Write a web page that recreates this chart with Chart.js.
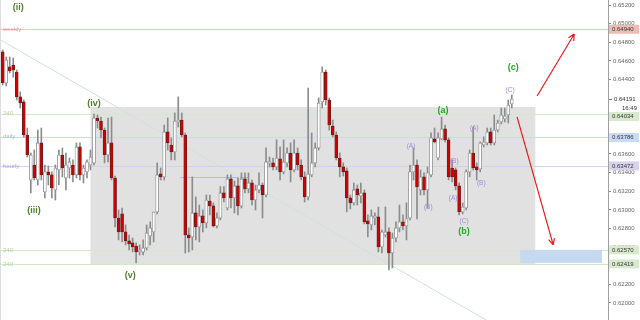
<!DOCTYPE html>
<html>
<head>
<meta charset="utf-8">
<script src="https://cdn.jsdelivr.net/npm/chart.js@4.4.1/dist/chart.umd.min.js"></script>
<style>
  html, body { margin: 0; padding: 0; background: #fff; overflow: hidden; }
</style>
</head>
<body>
<canvas id="chart" width="640" height="320"></canvas>
<script>
// candles (price)
const opens = [
  0.64696,0.64363,0.64535,0.64556,0.64481,0.64213,0.64159,0.63804,0.63321,0.63482,
  0.63321,0.63719,0.63193,0.63408,0.63375,0.63214,0.63429,0.63589,0.63342,0.63450,
  0.63482,0.63375,0.63676,0.63375,0.63408,0.63482,0.63504,0.63987,0.63954,0.63858,
  0.63589,0.63719,0.63342,0.62913,0.62956,0.62763,0.62666,0.62645,0.62612,0.62548,
  0.62548,0.62591,0.62720,0.62763,0.62978,0.63386,0.63354,0.63837,0.63697,0.63622,
  0.63944,0.63965,0.63804,0.62731,0.62709,0.62967,0.62816,0.62935,0.62859,0.63095,
  0.63042,0.62827,0.62913,0.63182,0.63020,0.63332,0.63128,0.63257,0.63042,0.63332,
  0.63225,0.63289,0.63106,0.63214,0.63267,0.63160,0.63504,0.63504,0.63461,0.63547,
  0.63408,0.63504,0.63611,0.63429,0.63611,0.63482,0.63354,0.63139,0.63375,0.63504,
  0.63665,0.64159,0.64481,0.64180,0.63901,0.63804,0.63557,0.63461,0.63418,0.63128,
  0.63074,0.63225,0.63150,0.63182,0.62881,0.62838,0.62913,0.62924,0.62602,0.62731,
  0.62763,0.62537,0.62698,0.62806,0.62871,0.62827,0.62913,0.63408,0.63482,0.63214,
  0.63354,0.63214,0.63375,0.63762,0.63557,0.63762,0.63869,0.63751,0.63450,0.63429,
  0.63257,0.62978,0.63020,0.63408,0.63611,0.63461,0.63440,0.63697,0.63719,0.63837,
  0.63719,0.63858,0.63944,0.63976,0.64019,0.64137
];
const highs = [
  0.64717,0.64642,0.64642,0.64631,0.64502,0.64267,0.64180,0.63879,0.63611,0.63643,
  0.63858,0.63879,0.63482,0.63472,0.63408,0.63482,0.63643,0.63665,0.63611,0.63557,
  0.63536,0.63719,0.63719,0.63482,0.63536,0.63643,0.64030,0.64019,0.63997,0.63879,
  0.63987,0.63997,0.63364,0.62999,0.63020,0.62838,0.62730,0.62698,0.62645,0.62623,
  0.62677,0.62838,0.62871,0.62924,0.63504,0.63450,0.63911,0.63987,0.63773,0.64041,
  0.64213,0.64041,0.63826,0.62806,0.63354,0.63139,0.63052,0.62999,0.63160,0.63160,
  0.63074,0.62967,0.63250,0.63250,0.63375,0.63375,0.63310,0.63342,0.63397,0.63397,
  0.63397,0.63321,0.63267,0.63397,0.63289,0.63665,0.63568,0.63557,0.63751,0.63676,
  0.63751,0.63665,0.63719,0.63751,0.63665,0.63536,0.63408,0.64309,0.63826,0.63719,
  0.64202,0.64535,0.64502,0.64202,0.63965,0.63837,0.63611,0.63504,0.63450,0.63160,
  0.63289,0.63267,0.63289,0.63214,0.62946,0.62999,0.62967,0.63031,0.62784,0.63031,
  0.62806,0.62752,0.62871,0.63052,0.62946,0.63074,0.63482,0.63665,0.63536,0.63429,
  0.63397,0.63461,0.63826,0.63879,0.63826,0.63997,0.63911,0.63773,0.63536,0.63450,
  0.63289,0.63074,0.63429,0.63643,0.63890,0.63504,0.63729,0.63783,0.63879,0.63879,
  0.64019,0.63965,0.64094,0.64094,0.64180,0.64234
];
const lows = [
  0.64341,0.64331,0.64470,0.64427,0.64180,0.64094,0.63783,0.63568,0.63182,0.63321,
  0.63267,0.63321,0.63128,0.63267,0.63128,0.63106,0.63267,0.63354,0.63214,0.63342,
  0.63300,0.63342,0.63321,0.63289,0.63342,0.63429,0.63482,0.63879,0.63773,0.63504,
  0.63515,0.63321,0.62816,0.62677,0.62656,0.62623,0.62569,0.62548,0.62430,0.62515,
  0.62515,0.62569,0.62623,0.62656,0.62956,0.63321,0.63321,0.63643,0.63536,0.63536,
  0.63890,0.63783,0.62537,0.62548,0.62569,0.62677,0.62656,0.62763,0.62806,0.62946,
  0.62816,0.62806,0.62892,0.63085,0.62999,0.63020,0.62967,0.62946,0.63020,0.63182,
  0.63182,0.63052,0.62999,0.63182,0.62913,0.63139,0.63461,0.63429,0.63429,0.63321,
  0.63386,0.63461,0.63300,0.63408,0.63429,0.63321,0.63085,0.63106,0.63354,0.63461,
  0.63643,0.64094,0.64126,0.63858,0.63783,0.63536,0.63354,0.63364,0.62978,0.63010,
  0.63052,0.63052,0.63074,0.62849,0.62709,0.62784,0.62838,0.62548,0.62537,0.62709,
  0.62355,0.62376,0.62656,0.62763,0.62784,0.62677,0.62892,0.63321,0.62903,0.63160,
  0.63160,0.63020,0.63354,0.63719,0.63536,0.63751,0.63729,0.63321,0.63300,0.63214,
  0.62946,0.62956,0.62999,0.63354,0.63429,0.63321,0.63408,0.63676,0.63697,0.63697,
  0.63697,0.63837,0.63922,0.63944,0.63933,0.64094
];
const closes = [
  0.64363,0.64610,0.64491,0.64502,0.64213,0.64148,0.63804,0.63589,0.63589,0.63342,
  0.63719,0.63375,0.63408,0.63375,0.63235,0.63450,0.63589,0.63450,0.63482,0.63515,
  0.63375,0.63676,0.63375,0.63450,0.63515,0.63568,0.63987,0.63954,0.63858,0.63589,
  0.63719,0.63342,0.62913,0.62763,0.62763,0.62666,0.62634,0.62602,0.62548,0.62569,
  0.62591,0.62752,0.62806,0.62978,0.63375,0.63354,0.63837,0.63719,0.63622,0.63954,
  0.63965,0.63804,0.62731,0.62698,0.62967,0.62816,0.62935,0.62859,0.63106,0.63042,
  0.62827,0.62913,0.63182,0.63128,0.63332,0.63128,0.63257,0.63042,0.63332,0.63225,
  0.63289,0.63106,0.63214,0.63267,0.63160,0.63515,0.63515,0.63461,0.63557,0.63408,
  0.63515,0.63611,0.63429,0.63611,0.63482,0.63354,0.63139,0.63386,0.63504,0.63665,
  0.64148,0.64481,0.64180,0.63911,0.63804,0.63557,0.63461,0.63408,0.63128,0.63074,
  0.63214,0.63160,0.63182,0.62871,0.62849,0.62935,0.62935,0.62602,0.62763,0.62763,
  0.62537,0.62698,0.62806,0.62871,0.62827,0.62903,0.63408,0.63482,0.63246,0.63354,
  0.63214,0.63397,0.63773,0.63729,0.63773,0.63869,0.63751,0.63354,0.63354,0.63257,
  0.62978,0.63031,0.63408,0.63611,0.63450,0.63429,0.63719,0.63729,0.63837,0.63719,
  0.63858,0.63933,0.64019,0.64008,0.64126,0.64191
];

// price axis
const yTicks = [0.620,0.622,0.624,0.626,0.628,0.630,0.632,0.634,0.636,0.638,0.640,0.642,0.644,0.646,0.648,0.650,0.652];
const lastPrice = 0.64191;
const timerText = "16:49";

// support / resistance levels
const levelNames = ["weekly", "240", "daily", "hourly", "240", "240"];
const levelPrices = [0.64940, 0.64034, 0.63786, 0.63472, 0.62570, 0.62419];

// drawn objects (x in candle index, y in price)
const zoneX = [25.0, 151.7];
const zonePrice = [0.64105, 0.62419];
const targetX = [147.4, 170.7];
const targetPrice = [0.62570, 0.62430];
const trendX = [-0.77, 138.8];
const trendPrice = [0.64829, 0.61793];
const shortLineX = [50.5, 69.9];
const shortLinePrice = 0.63354;
const arrowUpX = [152.2, 162.8];
const arrowUpPrice = [0.64223, 0.64889];
const arrowDownX = [146.5, 156.8];
const arrowDownPrice = [0.63998, 0.62623];

// wave counts
const waveLabels = ["(ii)", "(iii)", "(iv)", "(v)", "(a)", "(b)", "(c)"];
const waveX = [4.4, 8.9, 26.0, 36.3, 125.4, 131.4, 145.4];
const wavePrice = [0.65168, 0.62988, 0.64137, 0.62291, 0.64062, 0.62763, 0.64524];
const subLabels = ["(A)", "(B)", "(B)", "(A)", "(C)", "(A)", "(B)", "(C)"];
const subX = [116.3, 121.2, 128.6, 128.3, 131.4, 134.3, 136.3, 144.5];
const subPrice = [0.63687, 0.63031, 0.63525, 0.63128, 0.62881, 0.63879, 0.63289, 0.64288];

const FONT = "Arial, 'Liberation Sans', sans-serif";
const levelLine = ["#f0c4c0", "#d6e8cc", "#c9d9f5", "#d4cfec", "#d6e8cc", "#d6e8cc"];
const levelText = ["#e59890", "#b3d19e", "#9fb9ee", "#ada3da", "#b3d19e", "#b3d19e"];
const levelBox = ["#efbcb5", "#d8eace", "#cbdaf6", "#d9d2ee", "#d8eace", "#d8eace"];
const levelDy = [0, 3, 1, 0, 0, 0];

const idx = opens.map((_, i) => i);
const isDown = idx.map(i => closes[i] < opens[i]);

function arrow(ctx, x0, y0, x1, y1) {
  ctx.beginPath();
  ctx.moveTo(x0, y0);
  ctx.lineTo(x1, y1);
  const ang = Math.atan2(y1 - y0, x1 - x0);
  const len = 7;
  ctx.moveTo(x1, y1);
  ctx.lineTo(x1 - len * Math.cos(ang - 0.45), y1 - len * Math.sin(ang - 0.45));
  ctx.moveTo(x1, y1);
  ctx.lineTo(x1 - len * Math.cos(ang + 0.45), y1 - len * Math.sin(ang + 0.45));
  ctx.stroke();
}

const overlay = {
  id: "overlay",
  beforeDatasetsDraw(chart) {
    const ctx = chart.ctx, a = chart.chartArea;
    const xs = chart.scales.x, ys = chart.scales.y;
    ctx.save();
    // left edge
    ctx.strokeStyle = "#dddddd";
    ctx.lineWidth = 1;
    ctx.beginPath(); ctx.moveTo(0.5, 0); ctx.lineTo(0.5, a.bottom); ctx.stroke();

    // consolidation zone
    const zx0 = xs.getPixelForValue(zoneX[0]), zx1 = xs.getPixelForValue(zoneX[1]);
    const zy0 = ys.getPixelForValue(zonePrice[0]), zy1 = ys.getPixelForValue(zonePrice[1]);
    ctx.fillStyle = "#e1e1e1";
    ctx.fillRect(zx0, zy0, zx1 - zx0, zy1 - zy0);

    // level lines
    levelPrices.forEach((p, i) => {
      const y = Math.round(ys.getPixelForValue(p)) + 0.5;
      ctx.strokeStyle = levelLine[i];
      ctx.beginPath(); ctx.moveTo(a.left, y); ctx.lineTo(a.right, y); ctx.stroke();
    });

    // short line
    const sy = Math.round(ys.getPixelForValue(shortLinePrice)) + 0.5;
    ctx.strokeStyle = "#bdb8dc";
    ctx.beginPath();
    ctx.moveTo(xs.getPixelForValue(shortLineX[0]), sy);
    ctx.lineTo(xs.getPixelForValue(shortLineX[1]), sy);
    ctx.stroke();

    // trend line
    ctx.strokeStyle = "#cfe0e0";
    ctx.beginPath();
    ctx.moveTo(xs.getPixelForValue(trendX[0]), ys.getPixelForValue(trendPrice[0]));
    ctx.lineTo(xs.getPixelForValue(trendX[1]), ys.getPixelForValue(trendPrice[1]));
    ctx.stroke();

    // target box
    const tx0 = xs.getPixelForValue(targetX[0]), tx1 = xs.getPixelForValue(targetX[1]);
    const ty0 = ys.getPixelForValue(targetPrice[0]), ty1 = ys.getPixelForValue(targetPrice[1]);
    ctx.fillStyle = "#c5daf0";
    ctx.fillRect(tx0, ty0, tx1 - tx0, ty1 - ty0);

    // level names
    ctx.font = "6px " + FONT;
    ctx.textBaseline = "middle";
    ctx.textAlign = "left";
    levelPrices.forEach((p, i) => {
      ctx.fillStyle = levelText[i];
      ctx.fillText(levelNames[i], 3, ys.getPixelForValue(p));
    });
    ctx.restore();
  },
  afterDatasetsDraw(chart) {
    const ctx = chart.ctx;
    const xs = chart.scales.x, ys = chart.scales.y;
    ctx.save();
    ctx.strokeStyle = "#ee1a1a";
    ctx.lineWidth = 1.2;
    arrow(ctx, xs.getPixelForValue(arrowUpX[0]), ys.getPixelForValue(arrowUpPrice[0]),
      xs.getPixelForValue(arrowUpX[1]), ys.getPixelForValue(arrowUpPrice[1]));
    arrow(ctx, xs.getPixelForValue(arrowDownX[0]), ys.getPixelForValue(arrowDownPrice[0]),
      xs.getPixelForValue(arrowDownX[1]), ys.getPixelForValue(arrowDownPrice[1]));

    ctx.textAlign = "center";
    ctx.textBaseline = "middle";
    ctx.font = "bold 9px " + FONT;
    waveLabels.forEach((t, i) => {
      ctx.fillStyle = i < 4 ? "#4f7f2f" : "#22aa22";
      ctx.fillText(t, xs.getPixelForValue(waveX[i]), ys.getPixelForValue(wavePrice[i]));
    });
    ctx.font = "6.5px " + FONT;
    ctx.fillStyle = "#a58ad6";
    subLabels.forEach((t, i) => {
      ctx.fillText(t, xs.getPixelForValue(subX[i]), ys.getPixelForValue(subPrice[i]));
    });
    ctx.restore();
  },
  afterDraw(chart) {
    const ctx = chart.ctx, a = chart.chartArea, ys = chart.scales.y;
    ctx.save();
    ctx.font = "6px " + FONT;
    ctx.textBaseline = "middle";
    ctx.textAlign = "left";
    // last price + timer
    const ly = ys.getPixelForValue(lastPrice);
    ctx.fillStyle = "#ffffff";
    ctx.fillRect(a.right + 1, ly - 4, 640 - a.right, 18);
    ctx.strokeStyle = "#777";
    ctx.beginPath(); ctx.moveTo(a.right + 1, ly + 0.5); ctx.lineTo(a.right + 4, ly + 0.5); ctx.stroke();
    ctx.fillStyle = "#333";
    ctx.fillText(lastPrice.toFixed(5), a.right + 6, ly);
    ctx.textAlign = "right";
    ctx.fillText(timerText, 637, ly + 9);
    ctx.textAlign = "left";
    // level price boxes
    levelPrices.forEach((p, i) => {
      const y = ys.getPixelForValue(p) + levelDy[i];
      ctx.fillStyle = levelBox[i];
      ctx.fillRect(a.right + 1, y - 4.5, 30, 9);
      ctx.fillStyle = "#333";
      ctx.fillText(p.toFixed(5), a.right + 4, y);
    });
    ctx.restore();
  }
};

new Chart(document.getElementById("chart"), {
  type: "bar",
  data: {
    datasets: [
      {
        label: "body",
        data: idx.map(i => ({ x: i, y: [opens[i], closes[i]] })),
        backgroundColor: idx.map(i => isDown[i] ? "#d00000" : "#ffffff"),
        borderColor: idx.map(i => isDown[i] ? "#602020" : "#8a8a8a"),
        borderWidth: 0.8,
        borderSkipped: false,
        barThickness: 3,
        grouped: false
      },
      {
        label: "wick",
        data: idx.map(i => ({ x: i, y: [lows[i], highs[i]] })),
        backgroundColor: "#8c8c8c",
        borderWidth: 0,
        barThickness: 1,
        grouped: false
      }
    ]
  },
  options: {
    responsive: false,
    animation: false,
    devicePixelRatio: 1,
    events: [],
    layout: { padding: 0 },
    plugins: { legend: { display: false }, tooltip: { enabled: false } },
    scales: {
      x: {
        type: "linear",
        offset: false,
        min: -0.77,
        max: 172.4,
        display: false
      },
      y: {
        position: "right",
        min: 0.61817,
        max: 0.65254,
        afterFit(scale) {
          scale.width = 32;
          scale.paddingTop = 0;
          scale.paddingBottom = 0;
        },
        afterBuildTicks(scale) { scale.ticks = yTicks.map(v => ({ value: v })); },
        border: { color: "#a0a0a0" },
        grid: { drawOnChartArea: false, tickLength: 3, color: "#888" },
        ticks: {
          font: { size: 6, family: FONT },
          color: "#666",
          padding: 2,
          callback: v => v.toFixed(5)
        }
      }
    }
  },
  plugins: [overlay]
});
</script>
</body>
</html>
